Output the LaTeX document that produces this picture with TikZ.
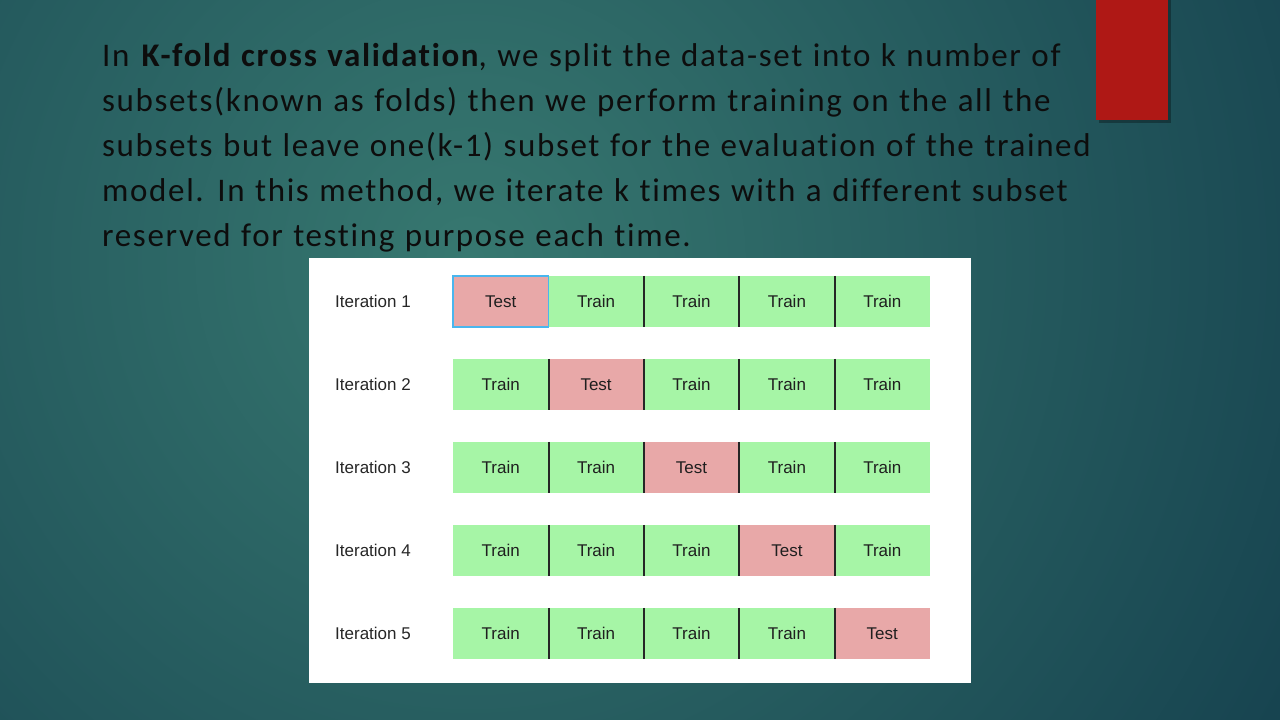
\documentclass[tikz,border=0pt]{standalone}
\usepackage{fontspec}
\setmainfont{Carlito}[Ligatures={NoCommon}, LetterSpace=5, WordSpace=1.15]
\newfontfamily\gridfont{Liberation Sans}
\definecolor{bgdark}{HTML}{113A4A}
\definecolor{bgmid}{HTML}{377870}
\definecolor{redbar}{HTML}{AF1815}
\definecolor{trainfill}{HTML}{A6F5A6}
\definecolor{testfill}{HTML}{E8A8A8}
\definecolor{selblue}{HTML}{4AB6EE}
\tikzset{
  lbl/.style={anchor=west, inner sep=0pt, font=\gridfont\fontsize{17}{20}\selectfont, text=black!85},
  cell/.style={minimum width=95.4pt, minimum height=51pt, inner sep=0pt, font=\gridfont\fontsize{17}{20}\selectfont, text=black!88},
  train/.style={fill=trainfill},
  test/.style={fill=testfill},
  line/.style={anchor=base west, font=\fontsize{33}{45}\selectfont, text=black!95, inner sep=0pt}
}
\begin{document}
\begin{tikzpicture}[x=1pt,y=-1pt]
\useasboundingbox (0,0) rectangle (1280,720);
\fill[bgdark] (0,0) rectangle (1280,720);
\begin{scope}
\clip (0,0) rectangle (1280,720);
\shade[inner color=bgmid, outer color=bgdark] (470,260) circle (1100);
\end{scope}
% red bar top right
\fill[black, opacity=.3] (1099,0) rectangle (1171,123);
\fill[redbar] (1096,0) rectangle (1168,120);
\node[line] (l1) at (102,66) {In \textbf{K-fold cross validation}, we split the data-set into k number of};
\node[line] (l2) at (102,111) {subsets(known as folds) then we perform training on the all the};
\node[line] (l3) at (102,156) {subsets but leave one(k-1) subset for the evaluation of the trained};
\node[line] (l4) at (102,201) {model. In this method, we iterate k times with a different subset};
\node[line] (l5) at (102,246) {reserved for testing purpose each time.};
\fill[white] (309,258) rectangle (971,683);
\foreach \r in {1,...,5}{
  \node[lbl] (it\r) at (335,{301.5+83*(\r-1)}) {Iteration \r};
  \foreach \c in {1,...,5}{
    \ifnum\r=\c \def\kind{test}\def\word{Test}\else\def\kind{train}\def\word{Train}\fi
    \node[cell,\kind] (c\r\c) at ({453+95.4*(\c-0.5)},{301.5+83*(\r-1)}) {\word};
  }
}
\foreach \r in {1,...,5}
  \foreach \c in {1,...,4}{
    \ifnum\r=1 \ifnum\c=1 \else
      \draw[line width=2pt, black!85] (c\r\c.north east) -- (c\r\c.south east);
    \fi \else
      \draw[line width=2pt, black!85] (c\r\c.north east) -- (c\r\c.south east);
    \fi
  }
\draw[selblue, line width=1.6pt] (c11.north west) rectangle (c11.south east);
\end{tikzpicture}
\end{document}
